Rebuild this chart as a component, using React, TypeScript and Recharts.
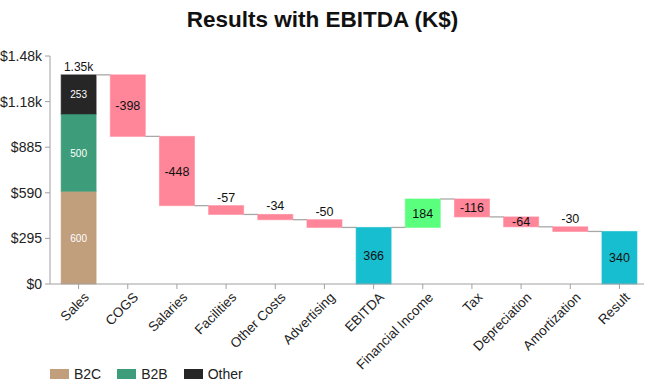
import * as React from 'react';
import { BarChart, Bar, XAxis, YAxis, Legend } from 'recharts';

const categories = ['Sales', 'COGS', 'Salaries', 'Facilities', 'Other Costs', 'Advertising', 'EBITDA', 'Financial Income', 'Tax', 'Depreciation', 'Amortization', 'Result'];
const kinds = ['sales', 'neg', 'neg', 'neg', 'neg', 'neg', 'total', 'pos', 'neg', 'neg', 'neg', 'total'];
const values = [1353, -398, -448, -57, -34, -50, 366, 184, -116, -64, -30, 340];
const salesB2C = 600;
const salesB2B = 500;
const salesOther = 253;
const yTicks = [0, 295, 590, 885, 1180, 1475];
const yTickLabels = ['$0', '$295', '$590', '$885', '$1.18k', '$1.48k'];

const COLORS = {
  b2c: '#C19E7C',
  b2b: '#3D9D7A',
  other: '#262626',
  neg: '#FF8599',
  pos: '#5BFF7E',
  total: '#17BECF',
};
const FONT = '"Liberation Sans", Arial, sans-serif';
const GAP = 0.145; // category gap on each side

type Row = {
  name: string;
  kind: string;
  value: number;
  base: number;
  b2c: number;
  b2b: number;
  other: number;
  neg: number;
  pos: number;
  total: number;
  last: boolean;
};

const buildRows = (): Row[] => {
  let level = 0;
  return categories.map((name, i) => {
    const kind = kinds[i];
    const v = values[i];
    const row: Row = { name, kind, value: v, base: 0, b2c: 0, b2b: 0, other: 0, neg: 0, pos: 0, total: 0, last: i === categories.length - 1 };
    if (kind === 'sales') {
      row.b2c = salesB2C;
      row.b2b = salesB2B;
      row.other = salesOther;
      level = salesB2C + salesB2B + salesOther;
    } else if (kind === 'neg') {
      row.base = level + v;
      row.neg = -v;
      level = row.base;
    } else if (kind === 'pos') {
      row.base = level;
      row.pos = v;
      level += v;
    } else {
      row.total = v;
      level = v;
    }
    return row;
  });
};

const data = buildRows();

const makeShape = (series: string, color: string) => (props: any) => {
  const { x, y, width, height, payload } = props;
  const row: Row = payload;
  const isSales = row.kind === 'sales';
  if (isSales ? !['b2c', 'b2b', 'other'].includes(series) : row.kind !== series) return <g />;
  const connLen = (width * 2 * GAP) / (1 - 2 * GAP);
  const endY = series === 'neg' ? y + height : y;
  const cx = x + width / 2;
  let label: React.ReactNode = null;
  if (isSales) {
    const v = series === 'b2c' ? salesB2C : series === 'b2b' ? salesB2B : salesOther;
    label = (
      <text x={cx} y={y + height / 2} dy={4} textAnchor="middle" fontSize={10} fill="#fff" fontFamily={FONT}>
        {v}
      </text>
    );
  } else {
    const inside = Math.abs(row.value) >= 60;
    label = (
      <text x={cx} y={inside ? y + height / 2 : y - 4} dy={inside ? 4.5 : 0} textAnchor="middle" fontSize={12.5} fill="#111" fontFamily={FONT}>
        {row.value}
      </text>
    );
  }
  const showConn = !row.last && (!isSales || series === 'other');
  return (
    <g>
      <rect x={x} y={y} width={width} height={height} fill={color} stroke={color} strokeOpacity={0.6} />
      {showConn && <line x1={x + width} x2={x + width + connLen} y1={endY} y2={endY} stroke="#a8a8a8" strokeWidth={1.3} />}
      {label}
      {isSales && series === 'other' && (
        <text x={cx} y={y - 4} textAnchor="middle" fontSize={12} fill="#111" fontFamily={FONT}>
          {((salesB2C + salesB2B + salesOther) / 1000).toFixed(2)}k
        </text>
      )}
    </g>
  );
};

const XTick = (props: any) => {
  const { x, y, payload } = props;
  return (
    <g transform={`translate(${x},${y})`}>
      <text x={0} y={0} dx={3} dy={13} textAnchor="end" transform="rotate(-45)" fontSize={13.5} fill="#222" fontFamily={FONT}>
        {payload.value}
      </text>
    </g>
  );
};

const YTick = (props: any) => {
  const { x, y, payload, index } = props;
  return (
    <text x={x - 1} y={y} dy={5} textAnchor="end" fontSize={14} fill="#222" fontFamily={FONT}>
      {yTickLabels[index] ?? payload.value}
    </text>
  );
};

const legendItems = [
  { label: 'B2C', color: COLORS.b2c },
  { label: 'B2B', color: COLORS.b2b },
  { label: 'Other', color: COLORS.other },
];

const LegendContent = () => (
  <div style={{ display: 'flex', alignItems: 'center', fontFamily: FONT, fontSize: 14, color: '#222' }}>
    {legendItems.map((it) => (
      <div key={it.label} style={{ display: 'flex', alignItems: 'center', marginRight: 16 }}>
        <span style={{ display: 'inline-block', width: 19, height: 10, background: it.color, marginRight: 5 }} />
        {it.label}
      </div>
    ))}
  </div>
);

export default function App() {
  return (
    <div style={{ position: 'absolute', top: 0, left: 0, width: 650, height: 392, background: '#fff' }}>
      <div style={{ position: 'absolute', top: 7, left: 0, width: 645, textAlign: 'center', fontFamily: FONT, fontWeight: 'bold', fontSize: 22.5, color: '#111' }}>
        Results with EBITDA (K$)
      </div>
      <BarChart
        width={650}
        height={392}
        data={data}
        margin={{ top: 56, right: 6, left: 0, bottom: 0 }}
        barCategoryGap={`${GAP * 100}%`}
      >
        <XAxis
          dataKey="name"
          interval={0}
          tick={<XTick />}
          height={88}
          stroke="#a0a0a0"
          tickSize={5}
          padding={{ left: 4, right: 0 }}
        />
        <YAxis
          domain={[0, 1475]}
          ticks={yTicks}
          tick={<YTick />}
          width={50}
          stroke="#a0a0a0"
          tickSize={5}
          interval={0}
        />
        <Legend
          verticalAlign="bottom"
          align="left"
          height={20}
          content={<LegendContent />}
          wrapperStyle={{ left: 50, bottom: 6 }}
        />
        <Bar dataKey="base" stackId="a" fill="transparent" isAnimationActive={false} />
        <Bar dataKey="b2c" stackId="a" fill={COLORS.b2c} shape={makeShape('b2c', COLORS.b2c)} isAnimationActive={false} />
        <Bar dataKey="b2b" stackId="a" fill={COLORS.b2b} shape={makeShape('b2b', COLORS.b2b)} isAnimationActive={false} />
        <Bar dataKey="other" stackId="a" fill={COLORS.other} shape={makeShape('other', COLORS.other)} isAnimationActive={false} />
        <Bar dataKey="neg" stackId="a" fill={COLORS.neg} shape={makeShape('neg', COLORS.neg)} isAnimationActive={false} />
        <Bar dataKey="pos" stackId="a" fill={COLORS.pos} shape={makeShape('pos', COLORS.pos)} isAnimationActive={false} />
        <Bar dataKey="total" stackId="a" fill={COLORS.total} shape={makeShape('total', COLORS.total)} isAnimationActive={false} />
      </BarChart>
    </div>
  );
}
